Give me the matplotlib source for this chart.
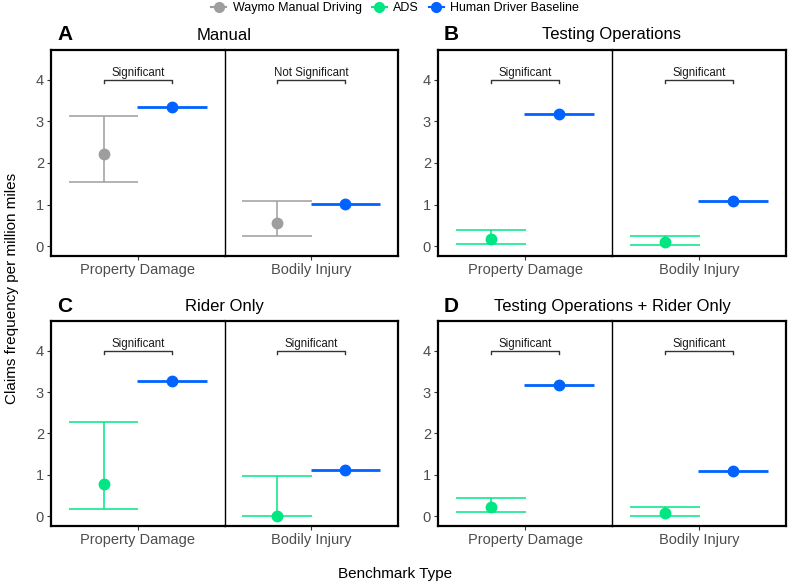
import matplotlib.pyplot as plt
from matplotlib.lines import Line2D

plt.rcParams['font.family'] = ['Liberation Sans', 'DejaVu Sans']

panels = ['A', 'B', 'C', 'D']
titles = ['Manual', 'Testing Operations', 'Rider Only', 'Testing Operations + Rider Only']
benchmarks = ['Property Damage', 'Bodily Injury']
group_names = ['Waymo Manual Driving', 'ADS', 'Human Driver Baseline']

# per panel: [property damage, bodily injury] -> (point, lower, upper)
study_vals = [
    [(2.22, 1.53, 3.13), (0.56, 0.24, 1.09)],
    [(0.18, 0.06, 0.38), (0.09, 0.02, 0.25)],
    [(0.78, 0.16, 2.27), (0.00, 0.00, 0.96)],
    [(0.23, 0.10, 0.44), (0.07, 0.01, 0.22)],
]
human_vals = [
    [3.34, 1.02],
    [3.17, 1.09],
    [3.26, 1.11],
    [3.17, 1.08],
]
sig_labels = [
    ['Significant', 'Not Significant'],
    ['Significant', 'Significant'],
    ['Significant', 'Significant'],
    ['Significant', 'Significant'],
]
study_group = ['Waymo Manual Driving', 'ADS', 'ADS', 'ADS']

colors = {'Waymo Manual Driving': '#9e9e9e', 'ADS': '#00e682', 'Human Driver Baseline': '#0063ff'}

W, H = 789, 585
fig = plt.figure(figsize=(W / 100, H / 100), dpi=100)

# panel boxes in pixels: left, right, top, bottom
boxes = [(51, 398, 50, 256), (438, 786, 50, 256), (51, 398, 321, 526), (438, 786, 321, 526)]

dodge = 0.236
half = 0.24

for p in range(4):
    l, r, t, b = boxes[p]
    mid = (l + r) / 2
    for k in range(2):
        x0 = l if k == 0 else mid
        x1 = mid if k == 0 else r
        ax = fig.add_axes([x0 / W, 1 - b / H, (x1 - x0) / W, (b - t) / H])
        ax.set_xlim(0.4, 1.6)
        ax.set_ylim(-0.24, 4.72)
        pt, lo, hi = study_vals[p][k]
        c = colors[study_group[p]]
        xs = 1 - dodge
        ax.vlines(xs, lo, hi, color=c, lw=1.1, zorder=2)
        ax.hlines([lo, hi], xs - half, xs + half, color=c, lw=1.1, zorder=2)
        ax.plot(xs, pt, 'o', color=c, ms=7.5, zorder=3)
        hv = human_vals[p][k]
        xh = 1 + dodge
        ax.hlines(hv, xh - half, xh + half, color=colors['Human Driver Baseline'], lw=2, zorder=2)
        ax.plot(xh, hv, 'o', color=colors['Human Driver Baseline'], ms=7.5, zorder=3)
        # significance bracket
        ax.plot([xs, xs, xh, xh], [3.93, 4.0, 4.0, 3.93], color='#333333', lw=1)
        ax.text(1, 4.02, sig_labels[p][k], ha='center', va='bottom', fontsize=8.3, color='#1a1a1a')
        ax.set_xticks([1])
        ax.set_xticklabels([benchmarks[k]], fontsize=10.5, color='#4d4d4d')
        ax.set_yticks([0, 1, 2, 3, 4])
        ax.tick_params(length=3, width=0.8, color='#333333', labelsize=10.5, labelcolor='#4d4d4d', pad=2)
        for s in ax.spines.values():
            s.set_linewidth(1.6)
        if k == 0:
            ax.spines['right'].set_visible(False)
        else:
            ax.spines['left'].set_linewidth(1.0)
            ax.spines['left'].set_color('black')
            ax.tick_params(axis='y', left=False, labelleft=False)
    fig.text(mid / W, 1 - (t - 15) / H, titles[p], ha='center', va='center', fontsize=12)
    fig.text((l + 6) / W, 1 - (t - 15) / H, panels[p], ha='left', va='center', fontsize=15, fontweight='bold')

fig.text(12 / W, 1 - 288 / H, 'Claims frequency per million miles', rotation=90, ha='center', va='center', fontsize=11)
fig.text(395 / W, 1 - 574 / H, 'Benchmark Type', ha='center', va='center', fontsize=11)

handles = [Line2D([0], [0], color=colors[g], marker='o', ms=7, lw=1.5) for g in group_names]
fig.legend(handles, group_names, loc='center', bbox_to_anchor=(395 / W, 1 - 8 / H), ncol=3, frameon=False,
           fontsize=9, handlelength=1.2, handletextpad=0.5, columnspacing=0.8, borderpad=0)

plt.savefig('out.png', dpi=100)
